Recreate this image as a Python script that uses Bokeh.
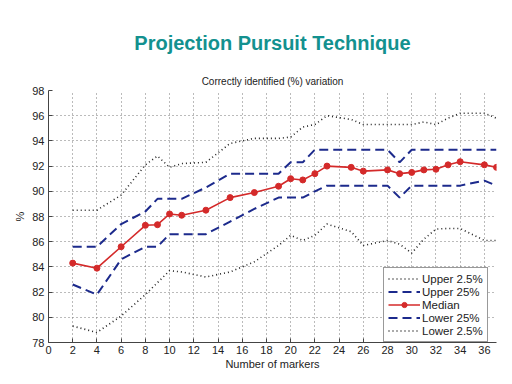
from bokeh.plotting import figure
from bokeh.models import Title, Legend, LegendItem, Range1d, FixedTicker
from bokeh.embed import file_html
from bokeh.resources import INLINE

# ---- data ----
markers = [2, 4, 6, 8, 9, 10, 11, 13, 15, 17, 19, 20, 21, 22, 23, 25, 26, 28, 29, 30, 31, 32, 33, 34, 36, 37]
upper_2_5 = [88.5, 88.5, 89.7, 92.1, 92.8, 91.9, 92.2, 92.3, 93.8, 94.2, 94.2, 94.3, 95.1, 95.3, 96.0,
             95.7, 95.3, 95.3, 95.3, 95.3, 95.5, 95.3, 95.8, 96.2, 96.2, 95.8]
upper_25 = [85.6, 85.6, 87.4, 88.4, 89.4, 89.4, 89.4, 90.3, 91.4, 91.4, 91.4, 92.3, 92.3, 93.3, 93.3,
            93.3, 93.3, 93.3, 92.3, 93.3, 93.3, 93.3, 93.3, 93.3, 93.3, 93.3]
median = [84.3, 83.9, 85.6, 87.3, 87.35, 88.2, 88.1, 88.5, 89.5, 89.9, 90.4, 91.0, 90.9, 91.4, 92.0,
          91.9, 91.6, 91.7, 91.4, 91.5, 91.7, 91.75, 92.1, 92.35, 92.1, 91.9]
lower_25 = [82.6, 81.8, 84.6, 85.6, 85.6, 86.6, 86.6, 86.6, 87.6, 88.6, 89.5, 89.5, 89.5, 90.0, 90.45,
            90.45, 90.45, 90.45, 89.5, 90.45, 90.45, 90.45, 90.45, 90.45, 90.85, 90.45]
lower_2_5 = [79.3, 78.8, 80.1, 81.8, 82.75, 83.7, 83.6, 83.2, 83.6, 84.4, 85.7, 86.5, 86.1, 86.5, 87.4,
             86.8, 85.7, 86.1, 85.8, 85.1, 86.2, 87.0, 87.05, 87.05, 86.1, 86.1]
x_ticks = list(range(0, 37, 2))
y_ticks = list(range(78, 99, 2))

FONT = "Liberation Sans"

p = figure(width=508, height=380, output_backend="svg", toolbar_location=None,
           x_range=Range1d(0, 37), y_range=Range1d(78, 98),
           min_border_left=48, min_border_right=12, min_border_bottom=38, min_border_top=90)
p.outline_line_color = None
p.background_fill_color = "white"
p.border_fill_color = "white"

# titles: main title outermost, subtitle next to the plot
p.title.text = "Projection Pursuit Technique"
p.title.align = "center"
p.title.text_font = FONT
p.title.text_font_size = "20px"
p.title.text_font_style = "bold"
p.title.text_color = "#13918f"
p.title.standoff = 32
sub = Title(text="Correctly identified (%) variation", align="center", text_font=FONT,
            text_font_size="10px", text_font_style="normal", text_color="#222222", standoff=8)
p.add_layout(sub, "above")

# axes
for ax in (p.xaxis[0], p.yaxis[0]):
    ax.axis_line_color = "#444444"
    ax.major_tick_line_color = "#444444"
    ax.major_tick_in = 4
    ax.major_tick_out = 0
    ax.minor_tick_line_color = None
    ax.major_label_text_font = FONT
    ax.major_label_text_font_size = "11px"
    ax.major_label_text_color = "#222222"
    ax.axis_label_text_font = FONT
    ax.axis_label_text_font_size = "11px"
    ax.axis_label_text_font_style = "normal"
    ax.axis_label_text_color = "#222222"
p.xaxis.ticker = FixedTicker(ticks=x_ticks)
p.yaxis.ticker = FixedTicker(ticks=y_ticks)
p.xaxis.axis_label = "Number of markers"
p.yaxis.axis_label = "%"
p.xaxis.major_label_standoff = 3
p.yaxis.major_label_standoff = 4
p.xaxis.axis_label_standoff = 1
p.yaxis.axis_label_standoff = 3

# grid
for g in (p.xgrid[0], p.ygrid[0]):
    g.grid_line_color = "#777777"
    g.grid_line_dash = "1 3"
    g.grid_line_width = 1
p.xgrid.ticker = FixedTicker(ticks=x_ticks)
p.ygrid.ticker = FixedTicker(ticks=y_ticks)

DOT = "#222222"
NAVY = "#1c2a8c"
RED = "#d42a2a"

r1 = p.line(markers, upper_2_5, line_color=DOT, line_width=1.6, line_dash="1 3")
r2 = p.line(markers, upper_25, line_color=NAVY, line_width=2, line_dash="9 5")
r3 = p.line(markers, median, line_color=RED, line_width=1.6)
r3m = p.scatter(markers, median, size=6, fill_color=RED, line_color=RED)
r4 = p.line(markers, lower_25, line_color=NAVY, line_width=2, line_dash="9 5")
r5 = p.line(markers, lower_2_5, line_color=DOT, line_width=1.6, line_dash="1 3")

legend = Legend(items=[
    LegendItem(label="Upper 2.5%", renderers=[r1]),
    LegendItem(label="Upper 25%", renderers=[r2]),
    LegendItem(label="Median", renderers=[r3, r3m]),
    LegendItem(label="Lower 25%", renderers=[r4]),
    LegendItem(label="Lower 2.5%", renderers=[r5]),
], location=(335, 0))
legend.label_text_font = FONT
legend.label_text_font_size = "11.5px"
legend.label_text_color = "#222222"
legend.label_height = 13
legend.glyph_height = 13
legend.glyph_width = 32
legend.label_standoff = 2
legend.spacing = 0
legend.padding = 4
legend.margin = 0
legend.border_line_color = "#333333"
legend.border_line_width = 1
legend.background_fill_alpha = 1
p.add_layout(legend, "center")

open("out.html", "w").write(file_html(p, INLINE))
